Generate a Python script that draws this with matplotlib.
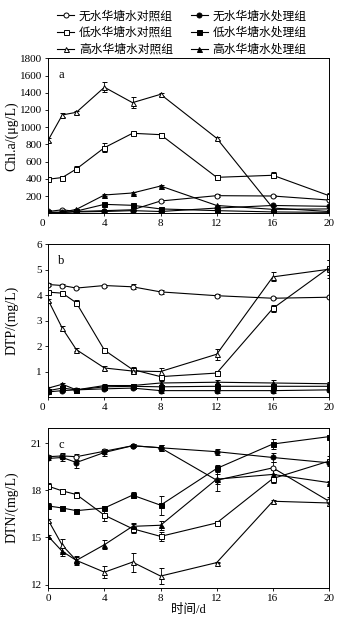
import matplotlib
matplotlib.use("Agg")
import matplotlib.pyplot as plt
from matplotlib.transforms import ScaledTranslation

plt.rcParams['font.family'] = ['Liberation Serif', 'Noto Sans CJK SC']
plt.rcParams['mathtext.fontset'] = 'stix'

days = [0, 1, 2, 4, 6, 8, 12, 16, 20]

labels = ["无水华塘水对照组", "低水华塘水对照组", "高水华塘水对照组",
          "无水华塘水处理组", "低水华塘水处理组", "高水华塘水处理组"]

# Chl.a (ug/L)
chla_none_ctrl = [20, 40, 20, 30, 40, 142, 204, 200, 153]
chla_low_ctrl = [395, 415, 514, 762, 929, 913, 417, 441, 204]
chla_high_ctrl = [851, 1142, 1173, 1464, 1285, 1382, 871, 60, 20]
chla_none_trt = [10, 10, 15, 20, 30, 20, 60, 90, 80]
chla_low_trt = [10, 5, 25, 103, 92, 50, 30, 15, 10]
chla_high_trt = [10, 12, 45, 212, 235, 316, 90, 45, 50]
chla_none_ctrl_err = [5, 5, 5, 8, 8, 15, 15, 15, 15]
chla_low_ctrl_err = [15, 20, 35, 50, 15, 25, 30, 35, 30]
chla_high_ctrl_err = [20, 20, 20, 60, 60, 15, 15, 20, 10]
chla_none_trt_err = [3, 3, 3, 5, 5, 5, 8, 8, 8]
chla_low_trt_err = [3, 3, 5, 10, 10, 8, 8, 5, 5]
chla_high_trt_err = [3, 3, 5, 10, 10, 15, 10, 8, 8]

# DTP (mg/L)
dtp_none_ctrl = [4.42, 4.38, 4.28, 4.38, 4.33, 4.13, 3.98, 3.88, 3.92]
dtp_low_ctrl = [4.12, 4.08, 3.70, 1.84, 1.08, 0.80, 0.94, 3.48, 5.08]
dtp_high_ctrl = [3.80, 2.70, 1.86, 1.14, 1.02, 1.00, 1.68, 4.72, 5.02]
dtp_none_trt = [0.20, 0.25, 0.28, 0.32, 0.35, 0.25, 0.25, 0.25, 0.28]
dtp_low_trt = [0.25, 0.35, 0.28, 0.40, 0.42, 0.40, 0.42, 0.42, 0.42]
dtp_high_trt = [0.35, 0.50, 0.28, 0.45, 0.45, 0.55, 0.58, 0.55, 0.52]
dtp_none_ctrl_err = [0.05, 0.06, 0.05, 0.04, 0.10, 0.07, 0.05, 0.04, 0.04]
dtp_low_ctrl_err = [0.04, 0.04, 0.10, 0.06, 0.08, 0.05, 0.10, 0.15, 0.30]
dtp_high_ctrl_err = [0.05, 0.10, 0.06, 0.08, 0.10, 0.12, 0.22, 0.18, 0.35]
dtp_none_trt_err = [0.05, 0.05, 0.04, 0.05, 0.05, 0.08, 0.10, 0.10, 0.08]
dtp_low_trt_err = [0.05, 0.05, 0.04, 0.05, 0.05, 0.08, 0.10, 0.10, 0.08]
dtp_high_trt_err = [0.05, 0.06, 0.04, 0.05, 0.05, 0.08, 0.10, 0.10, 0.08]

# DTN (mg/L)
dtn_none_ctrl = [20.15, 20.20, 20.15, 20.50, 20.85, 20.72, 18.65, 19.44, 17.31]
dtn_low_ctrl = [18.27, 17.97, 17.74, 16.42, 15.56, 15.07, 15.93, 18.76, 19.87]
dtn_high_ctrl = [16.10, 14.50, 13.54, 12.79, 13.43, 12.54, 13.40, 17.31, 17.20]
dtn_none_trt = [20.04, 20.10, 19.78, 20.42, 20.85, 20.72, 20.47, 20.10, 19.76]
dtn_low_trt = [17.01, 16.88, 16.71, 16.88, 17.70, 17.06, 19.40, 20.96, 21.43]
dtn_high_trt = [15.07, 14.11, 13.54, 14.54, 15.71, 15.78, 18.72, 19.02, 18.50]
dtn_none_ctrl_err = [0.10, 0.20, 0.20, 0.15, 0.10, 0.20, 0.70, 0.40, 0.30]
dtn_low_ctrl_err = [0.20, 0.10, 0.15, 0.40, 0.30, 0.30, 0.10, 0.30, 0.30]
dtn_high_ctrl_err = [0.10, 0.40, 0.30, 0.40, 0.60, 0.50, 0.05, 0.10, 0.20]
dtn_none_trt_err = [0.10, 0.20, 0.35, 0.20, 0.10, 0.20, 0.20, 0.30, 0.10]
dtn_low_trt_err = [0.20, 0.10, 0.10, 0.10, 0.20, 0.60, 0.20, 0.30, 0.10]
dtn_high_trt_err = [0.10, 0.30, 0.20, 0.30, 0.20, 0.30, 0.30, 0.30, 0.10]

markers = ['o', 's', '^', 'o', 's', '^']
fills = ['white', 'white', 'white', 'black', 'black', 'black']

fig = plt.figure(figsize=(3.59, 6.24), dpi=100)
ax_a = fig.add_axes([0.1345, 0.6583, 0.782, 0.2482])
ax_b = fig.add_axes([0.1345, 0.3638, 0.782, 0.2447])
ax_c = fig.add_axes([0.1345, 0.0582, 0.782, 0.2564])

panels = [
    (ax_a, [chla_none_ctrl, chla_low_ctrl, chla_high_ctrl, chla_none_trt, chla_low_trt, chla_high_trt],
     [chla_none_ctrl_err, chla_low_ctrl_err, chla_high_ctrl_err, chla_none_trt_err, chla_low_trt_err, chla_high_trt_err],
     'Chl.a/(μg/L)', (0, 1800), list(range(200, 1801, 200)), 'a'),
    (ax_b, [dtp_none_ctrl, dtp_low_ctrl, dtp_high_ctrl, dtp_none_trt, dtp_low_trt, dtp_high_trt],
     [dtp_none_ctrl_err, dtp_low_ctrl_err, dtp_high_ctrl_err, dtp_none_trt_err, dtp_low_trt_err, dtp_high_trt_err],
     'DTP/(mg/L)', (0, 6), [1, 2, 3, 4, 5, 6], 'b'),
    (ax_c, [dtn_none_ctrl, dtn_low_ctrl, dtn_high_ctrl, dtn_none_trt, dtn_low_trt, dtn_high_trt],
     [dtn_none_ctrl_err, dtn_low_ctrl_err, dtn_high_ctrl_err, dtn_none_trt_err, dtn_low_trt_err, dtn_high_trt_err],
     'DTN/(mg/L)', (11.8, 22.0), [12, 15, 18, 21], 'c'),
]

handles = []
for ax, series, errs, ylabel, ylim, yticks, tag in panels:
    for i in range(6):
        h = ax.errorbar(days, series[i], yerr=errs[i], color='black', lw=0.8,
                        marker=markers[i], ms=3.6, mfc=fills[i], mec='black', mew=0.7,
                        elinewidth=0.6, capsize=1.8, capthick=0.6)
        if ax is ax_a:
            handles.append(h[0])
    ax.set_xlim(0, 20)
    ax.set_ylim(*ylim)
    ax.set_xticks([0, 4, 8, 12, 16, 20])
    ax.set_yticks(yticks)
    ax.tick_params(direction='out', length=2.5, width=0.6, labelsize=8, pad=2)
    for s in ax.spines.values():
        s.set_linewidth(0.7)
    ax.set_ylabel(ylabel, fontsize=10, labelpad=2)
    ax.text(0.035, 0.93, tag, transform=ax.transAxes, fontsize=9, va='top')
    if ax is not ax_c:
        lbl = ax.get_xticklabels()[0]
        lbl.set_transform(lbl.get_transform() + ScaledTranslation(-6 / 100, 0, fig.dpi_scale_trans))

ax_c.set_xlabel('时间/d', fontsize=9, labelpad=1)
for ax in (ax_a, ax_b, ax_c):
    ax.yaxis.set_label_coords(-0.106, 0.5)

fig.legend(handles, labels, ncol=2, loc='upper center', bbox_to_anchor=(0.506, 0.995),
           frameon=False, fontsize=8.5, handlelength=1.45, handletextpad=0.4,
           columnspacing=1.5, labelspacing=0.4, borderaxespad=0.2)

fig.savefig('out.png', dpi=100)
